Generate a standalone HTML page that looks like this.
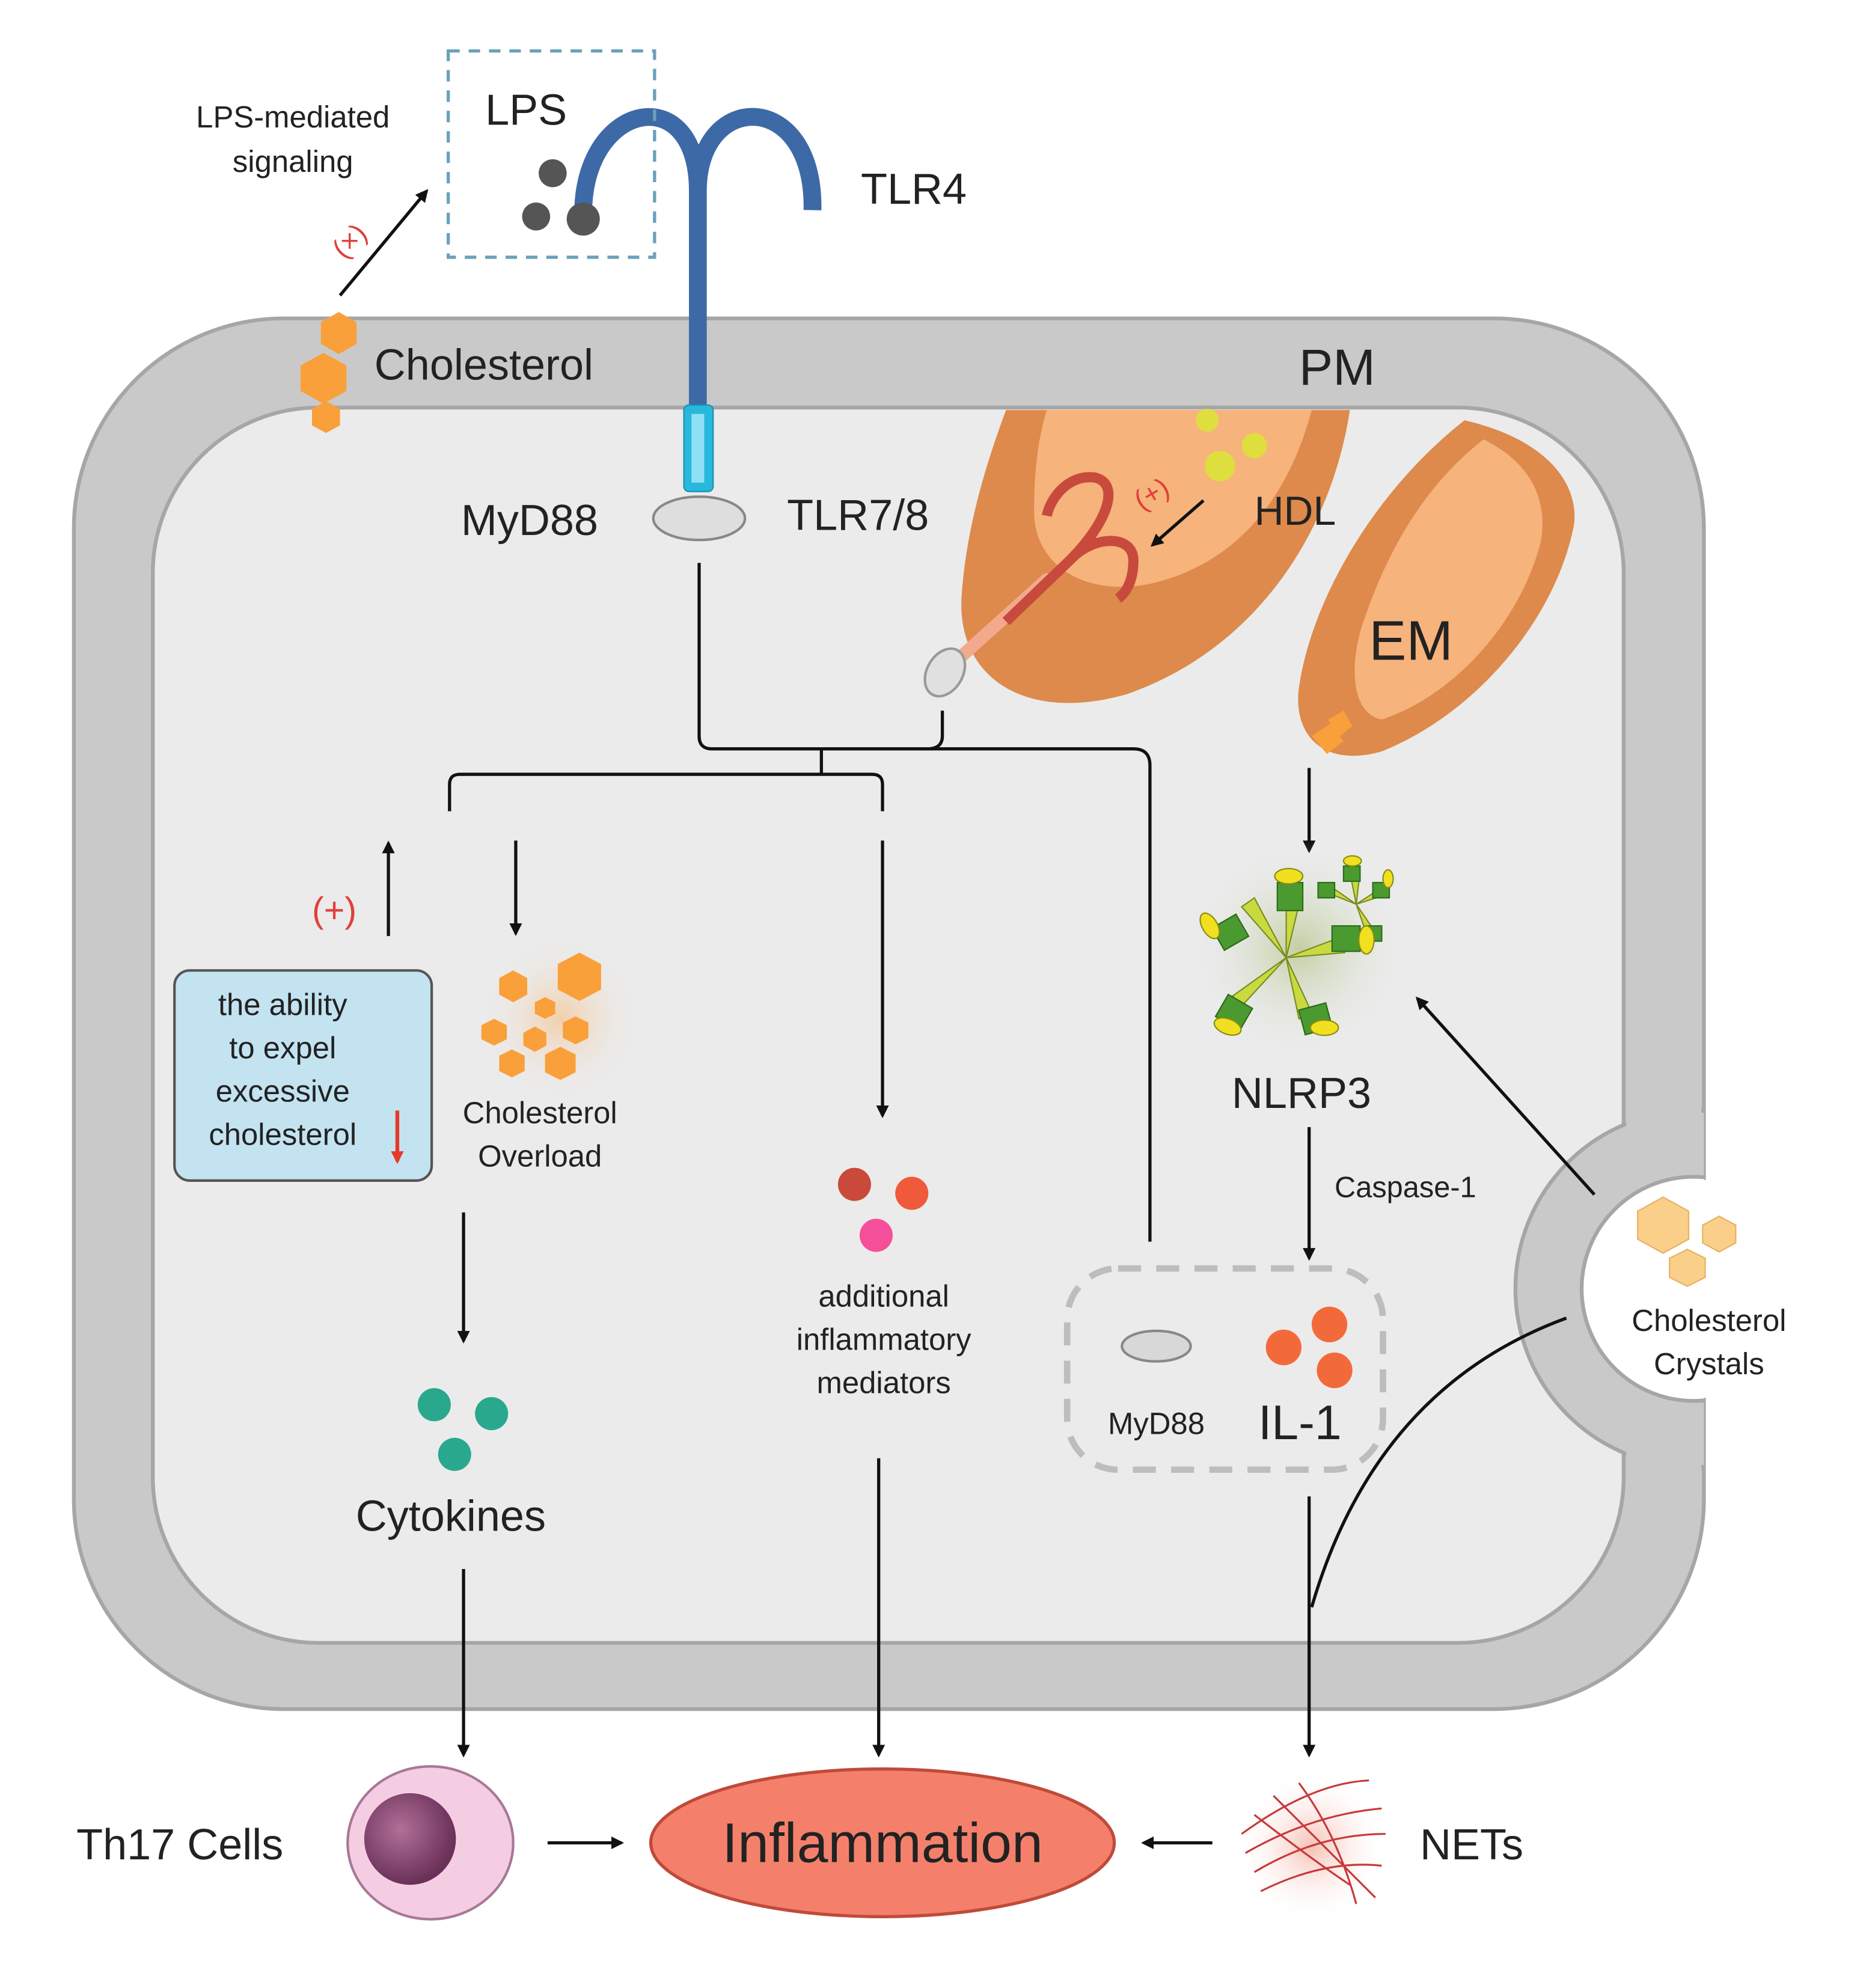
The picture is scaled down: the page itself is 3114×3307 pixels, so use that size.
<!DOCTYPE html>
<html><head><meta charset="utf-8"><style>
html,body{margin:0;padding:0;background:#fff;}
svg{display:block;}
text{font-family:"Liberation Sans","DejaVu Sans",sans-serif;fill:#222;}
</style></head><body>
<svg width="3114" height="3307" viewBox="0 0 1470 1561" preserveAspectRatio="none" xmlns="http://www.w3.org/2000/svg">
<defs>
<marker id="ar" markerWidth="10" markerHeight="10" refX="8" refY="5" orient="auto" markerUnits="userSpaceOnUse"><path d="M0,0 L10,5 L0,10 Z" fill="#111"/></marker>
<marker id="arr" markerWidth="10" markerHeight="10" refX="8" refY="5" orient="auto" markerUnits="userSpaceOnUse"><path d="M0,0 L10,5 L0,10 Z" fill="#e53a2a"/></marker>
<clipPath id="cell"><rect x="58" y="250" width="1280" height="1092" rx="165"/></clipPath>
<radialGradient id="nuc" cx="40%" cy="40%" r="60%"><stop offset="0" stop-color="#b07098"/><stop offset="1" stop-color="#6a3058"/></radialGradient>
<radialGradient id="glowO"><stop offset="0" stop-color="#f5c89a" stop-opacity=".8"/><stop offset="1" stop-color="#ebebeb" stop-opacity="0"/></radialGradient>
<radialGradient id="glowG"><stop offset="0" stop-color="#b8c890" stop-opacity=".8"/><stop offset="1" stop-color="#ebebeb" stop-opacity="0"/></radialGradient>
<radialGradient id="glowR"><stop offset="0" stop-color="#f3b0a0" stop-opacity=".8"/><stop offset="1" stop-color="#fff" stop-opacity="0"/></radialGradient>
</defs>

<!-- cell -->
<rect x="58" y="250" width="1280" height="1092" rx="165" fill="#c9c9c9" stroke="#a6a6a6" stroke-width="3"/>
<rect x="120" y="320" width="1155" height="970" rx="130" fill="#ebebeb" stroke="#a6a6a6" stroke-width="3"/>
<g clip-path="url(#cell)">
<circle cx="1330" cy="1012" r="140" fill="#c9c9c9" stroke="#a6a6a6" stroke-width="3"/>
<rect x="1277" y="860" width="59" height="300" fill="#c9c9c9"/>
<circle cx="1330" cy="1012" r="88" fill="#fff" stroke="#a6a6a6" stroke-width="3"/>
</g>
<circle cx="1330" cy="1012" r="86" fill="#fff"/>

<!-- EM shapes -->
<path d="M790,322 L1060,322 C1045,420 985,510 885,545 C805,568 752,532 755,470 C758,420 772,370 790,322Z" fill="#dd8a4c"/>
<path d="M822,322 L1030,322 C1012,390 972,442 905,458 C850,470 812,442 812,402 C812,370 815,345 822,322Z" fill="#f6b37c"/>
<path d="M1150,330 C1215,345 1240,380 1236,412 C1222,485 1160,560 1085,590 C1040,603 1015,578 1020,540 C1030,470 1080,385 1150,330Z" fill="#dd8a4c"/>
<path d="M1165,345 C1205,365 1215,395 1210,425 C1195,485 1145,545 1085,565 C1060,560 1060,520 1070,490 C1090,430 1120,380 1165,345Z" fill="#f6b37c"/>
<circle cx="948" cy="330" r="9" fill="#d8e830" opacity=".8"/><circle cx="985" cy="350" r="10" fill="#d8e830" opacity=".8"/><circle cx="958" cy="366" r="12" fill="#d8e830" opacity=".8"/>
<polygon points="1043,565 1055,558 1062,570 1050,580" fill="#f9a03a"/><polygon points="1030,578 1045,568 1055,582 1042,592" fill="#f9a03a"/>
<text x="1075" y="518" font-size="44">EM</text>
<text x="985" y="412" font-size="32">HDL</text>

<!-- TLR7/8 red receptor -->
<path d="M752,518 L822,455" stroke="#f3a98c" stroke-width="10" stroke-linecap="round"/>
<path d="M790,488 L840,440 C870,410 880,380 860,375 C840,372 825,390 822,405 M842,438 C860,420 890,420 890,440 C890,455 885,465 878,470" stroke="#c84a3c" stroke-width="8" fill="none"/>
<ellipse cx="742" cy="528" rx="14" ry="20" transform="rotate(30 742 528)" fill="#e0e0e0" stroke="#999" stroke-width="2"/>
<text x="890" y="392" font-size="22" style="fill:#e0403a" transform="rotate(-30 910 385)">(+)</text>
<line x1="945" y1="393" x2="905" y2="428" stroke="#111" stroke-width="2.5" marker-end="url(#ar)"/>

<!-- TLR4 -->
<path d="M548,320 L548,150 C548,60 455,80 458,172 M548,150 C548,70 640,70 638,165" stroke="#3d6aa6" stroke-width="14" fill="none"/>
<rect x="537" y="318" width="23" height="68" rx="4" fill="#27b8dc" stroke="#1a8fb0"/>
<rect x="543" y="325" width="10" height="54" fill="#8ee0f5"/>
<ellipse cx="549" cy="407" rx="36" ry="17" fill="#dedede" stroke="#888" stroke-width="2"/>
<text x="676" y="160" font-size="34">TLR4</text>
<text x="362" y="420" font-size="34">MyD88</text>
<text x="618" y="416" font-size="34">TLR7/8</text>

<!-- LPS box -->
<rect x="352" y="40" width="162" height="162" fill="none" stroke="#6aa0bb" stroke-width="2.5" stroke-dasharray="9,7"/>
<text x="381" y="98" font-size="34">LPS</text>
<circle cx="434" cy="136" r="11" fill="#555"/><circle cx="421" cy="170" r="11" fill="#555"/><circle cx="458" cy="172" r="13" fill="#555"/>
<text x="230" y="100" font-size="24" text-anchor="middle">LPS-mediated</text>
<text x="230" y="135" font-size="24" text-anchor="middle">signaling</text>
<line x1="267" y1="232" x2="335" y2="150" stroke="#111" stroke-width="2.5" marker-end="url(#ar)"/>
<text x="258" y="195" font-size="22" style="fill:#e0403a" transform="rotate(-45 275 185)">(×)</text>

<!-- membrane cholesterol -->
<polygon points="266,245 280,253 280,270 266,278 252,270 252,253" fill="#f9a03a"/>
<polygon points="254,277 272,287 272,307 254,317 236,307 236,287" fill="#f9a03a"/>
<polygon points="256,315 267,321 267,334 256,340 245,334 245,321" fill="#f9a03a"/>
<text x="294" y="298" font-size="34">Cholesterol</text>
<text x="1020" y="302" font-size="40">PM</text>

<!-- connector lines -->
<g stroke="#111" stroke-width="2.5" fill="none">
<path d="M549,442 L549,578 Q549,588 559,588 L890,588 Q903,588 903,601 L903,975"/>
<path d="M740,558 L740,578 Q740,588 728,588"/>
<path d="M645,588 L645,608"/>
<path d="M353,637 L353,616 Q353,608 361,608 L685,608 Q693,608 693,616 L693,637"/>
</g>
<g stroke="#111" stroke-width="2.5" fill="none">
<line x1="405" y1="660" x2="405" y2="733" marker-end="url(#ar)"/>
<line x1="305" y1="735" x2="305" y2="662" marker-end="url(#ar)"/>
<line x1="693" y1="660" x2="693" y2="876" marker-end="url(#ar)"/>
<line x1="364" y1="952" x2="364" y2="1053" marker-end="url(#ar)"/>
<line x1="364" y1="1232" x2="364" y2="1378" marker-end="url(#ar)"/>
<line x1="690" y1="1145" x2="690" y2="1378" marker-end="url(#ar)"/>
<line x1="1028" y1="1175" x2="1028" y2="1378" marker-end="url(#ar)"/>
<line x1="1028" y1="885" x2="1028" y2="988" marker-end="url(#ar)"/>
<line x1="1028" y1="603" x2="1028" y2="668" marker-end="url(#ar)"/>
<line x1="1252" y1="938" x2="1113" y2="784" marker-end="url(#ar)"/>
<line x1="430" y1="1447" x2="488" y2="1447" marker-end="url(#ar)"/>
<line x1="952" y1="1447" x2="898" y2="1447" marker-end="url(#ar)"/>
<path d="M1230,1035 Q1080,1090 1030,1262"/>
</g>
<text x="245" y="724" font-size="28" style="fill:#e0403a">(+)</text>

<!-- blue box -->
<rect x="137" y="762" width="202" height="165" rx="12" fill="#c3e3f1" stroke="#555" stroke-width="2"/>
<g font-size="24" text-anchor="middle"><text x="222" y="797">the ability</text><text x="222" y="831">to expel</text><text x="222" y="865">excessive</text><text x="222" y="899">cholesterol</text></g>
<line x1="312" y1="872" x2="312" y2="912" stroke="#e53a2a" stroke-width="3" marker-end="url(#arr)"/>

<!-- cholesterol overload -->
<circle cx="440" cy="800" r="65" fill="url(#glowO)"/>
<g fill="#f9a03a">
<polygon points="455,748 472,757 472,777 455,786 438,777 438,757"/>
<polygon points="403,762 414,768 414,781 403,787 392,781 392,768"/>
<polygon points="428,783 436,787 436,796 428,800 420,796 420,787"/>
<polygon points="388,800 398,805 398,816 388,821 378,816 378,805"/>
<polygon points="452,798 462,803 462,815 452,820 442,815 442,803"/>
<polygon points="420,806 429,811 429,821 420,826 411,821 411,811"/>
<polygon points="402,824 412,829 412,841 402,846 392,841 392,829"/>
<polygon points="440,822 452,828 452,842 440,848 428,842 428,828"/>
</g>
<text x="424" y="882" font-size="24" text-anchor="middle">Cholesterol</text>
<text x="424" y="916" font-size="24" text-anchor="middle">Overload</text>

<!-- mediators -->
<circle cx="671" cy="930" r="13" fill="#c94a3a"/><circle cx="716" cy="937" r="13" fill="#f05a3a"/><circle cx="688" cy="970" r="13" fill="#f54f9a"/>
<g font-size="24" text-anchor="middle"><text x="694" y="1026">additional</text><text x="694" y="1060">inflammatory</text><text x="694" y="1094">mediators</text></g>

<!-- cytokines -->
<circle cx="341" cy="1103" r="13" fill="#2aa88e"/><circle cx="386" cy="1110" r="13" fill="#2aa88e"/><circle cx="357" cy="1142" r="13" fill="#2aa88e"/>
<text x="354" y="1202" font-size="34" text-anchor="middle">Cytokines</text>

<!-- NLRP3 -->
<circle cx="1020" cy="745" r="85" fill="url(#glowG)"/>
<g stroke="#7a8a20" stroke-width="1">
<path d="M1010,752 L975,712 L985,705 Z M1010,752 L1010,700 L1022,702 Z M1010,752 L1055,735 L1056,748 Z M1010,752 L1030,795 L1020,800 Z M1010,752 L975,790 L968,782 Z M1065,710 L1060,685 L1068,684 Z M1065,710 L1088,695 L1090,702 Z M1065,710 L1080,732 L1074,736 Z M1065,710 L1040,700 L1042,694 Z" fill="#c8da40"/>
</g>
<g fill="#4a9a30" stroke="#2a6a1a" stroke-width="1">
<rect x="955" y="722" width="22" height="20" transform="rotate(-30 966 732)"/>
<rect x="1003" y="693" width="20" height="22"/>
<rect x="1046" y="727" width="22" height="20"/>
<rect x="1022" y="790" width="22" height="20" transform="rotate(-15 1033 800)"/>
<rect x="958" y="785" width="22" height="20" transform="rotate(30 969 795)"/>
<rect x="1055" y="680" width="13" height="12"/><rect x="1078" y="693" width="13" height="12"/><rect x="1072" y="727" width="13" height="12"/><rect x="1035" y="693" width="13" height="12"/>
</g>
<g fill="#f0e020" stroke="#8a8a10" stroke-width="1">
<ellipse cx="950" cy="727" rx="6" ry="11" transform="rotate(-30 950 727)"/>
<ellipse cx="1012" cy="688" rx="11" ry="6"/>
<ellipse cx="1073" cy="738" rx="6" ry="11"/>
<ellipse cx="1040" cy="807" rx="11" ry="6"/>
<ellipse cx="964" cy="806" rx="11" ry="6" transform="rotate(20 964 806)"/>
<ellipse cx="1062" cy="676" rx="7" ry="4"/><ellipse cx="1090" cy="690" rx="4" ry="7"/>
</g>
<text x="1022" y="870" font-size="34" text-anchor="middle">NLRP3</text>
<text x="1048" y="940" font-size="23">Caspase-1</text>

<!-- MyD88 / IL-1 box -->
<rect x="838" y="996" width="248" height="158" rx="40" fill="none" stroke="#bdbdbd" stroke-width="5" stroke-dasharray="18,12"/>
<ellipse cx="908" cy="1057" rx="27" ry="12" fill="#d8d8d8" stroke="#888" stroke-width="2"/>
<text x="908" y="1126" font-size="24" text-anchor="middle">MyD88</text>
<circle cx="1044" cy="1040" r="14" fill="#f36a3a"/><circle cx="1008" cy="1058" r="14" fill="#f36a3a"/><circle cx="1048" cy="1076" r="14" fill="#f36a3a"/>
<text x="988" y="1130" font-size="38">IL-1</text>

<!-- cholesterol crystals -->
<g fill="#f9cf8a" stroke="#e8b060" stroke-width="1">
<polygon points="1306,940 1326,951 1326,973 1306,984 1286,973 1286,951"/>
<polygon points="1350,955 1363,962 1363,976 1350,983 1337,976 1337,962"/>
<polygon points="1325,981 1339,988 1339,1003 1325,1010 1311,1003 1311,988"/>
</g>
<text x="1342" y="1045" font-size="24" text-anchor="middle">Cholesterol</text>
<text x="1342" y="1079" font-size="24" text-anchor="middle">Crystals</text>

<!-- bottom row -->
<text x="60" y="1460" font-size="34">Th17 Cells</text>
<ellipse cx="338" cy="1447" rx="65" ry="60" fill="#f5cde3" stroke="#a87898" stroke-width="2"/>
<circle cx="322" cy="1444" r="36" fill="url(#nuc)"/>
<ellipse cx="693" cy="1447" rx="182" ry="58" fill="#f4806c" stroke="#c04a3a" stroke-width="2.5"/>
<text x="693" y="1462" font-size="44" text-anchor="middle">Inflammation</text>
<circle cx="1030" cy="1450" r="60" fill="url(#glowR)"/>
<g stroke="#c8383a" stroke-width="1.5" fill="none">
<path d="M975,1440 Q1030,1400 1075,1398"/><path d="M978,1455 Q1030,1425 1085,1420"/><path d="M985,1470 Q1035,1440 1088,1440"/>
<path d="M990,1485 Q1040,1460 1085,1465"/><path d="M1000,1410 Q1040,1450 1080,1490"/><path d="M1020,1400 Q1050,1440 1065,1495"/>
<path d="M985,1425 Q1030,1460 1060,1480"/>
</g>
<text x="1115" y="1460" font-size="34">NETs</text>
</svg>
</body></html>
